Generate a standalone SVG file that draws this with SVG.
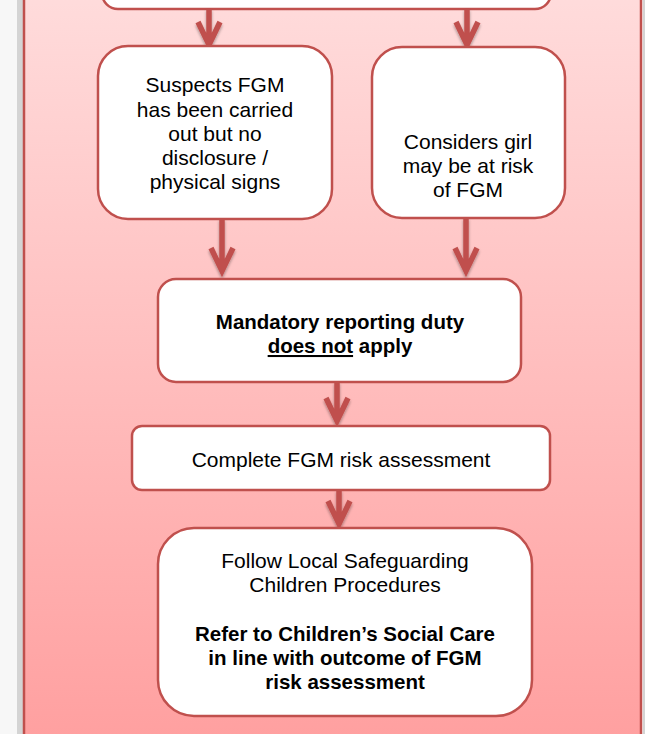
<svg xmlns="http://www.w3.org/2000/svg" width="645" height="734" viewBox="0 0 645 734">
<defs>
<linearGradient id="bg" x1="0" y1="0" x2="0" y2="1">
<stop offset="0" stop-color="#ffdcdc"/>
<stop offset="1" stop-color="#ff9f9f"/>
</linearGradient>
<filter id="sh" x="-50%" y="-20%" width="200%" height="150%">
<feGaussianBlur in="SourceAlpha" stdDeviation="1.5"/>
<feOffset dx="0" dy="2" result="b"/>
<feComponentTransfer><feFuncA type="linear" slope="0.35"/></feComponentTransfer>
<feMerge><feMergeNode/><feMergeNode in="SourceGraphic"/></feMerge>
</filter>
</defs>
<style>
.box{fill:#ffffff;stroke:#c0504d;stroke-width:2.5}
.arr{fill:none;stroke:#c0504d;stroke-width:5.5;stroke-linejoin:miter}
text{font-family:"Liberation Sans",Arial,sans-serif;font-size:21px;fill:#000;text-anchor:middle}
.b{font-weight:bold;font-size:20.5px}
</style>
<rect x="0" y="0" width="645" height="734" fill="#f7f7f7"/>
<rect x="17" y="0" width="6" height="734" fill="#d4d4d4"/>
<rect x="643" y="0" width="2" height="734" fill="#d4d4d4"/>
<rect id="frame" x="24" y="-10" width="617" height="760" fill="url(#bg)" stroke="#c0504d" stroke-width="2.5"/>
<g id="top-box"><rect class="box" x="102" y="-60" width="449" height="69" rx="16"/></g>
<g id="connectors" filter="url(#sh)">
<path class="arr" d="M209 9V45M198 22L209 45L220 22"/>
<path class="arr" d="M467 9V45M456 22L467 45L478 22"/>
<path class="arr" d="M222 219V271M211 248L222 271L233 248"/>
<path class="arr" d="M466 218V271M455 248L466 271L477 248"/>
<path class="arr" d="M337 382V421M326 398L337 421L348 398"/>
<path class="arr" d="M339 490V524M328 501L339 524L350 501"/>
</g>
<g id="suspects">
<rect class="box" x="98" y="46" width="234" height="173" rx="30"/>
<text x="215" y="92">Suspects FGM</text>
<text x="215" y="116.5">has been carried</text>
<text x="215" y="140.5">out but no</text>
<text x="215" y="165">disclosure /</text>
<text x="215" y="189">physical signs</text>
</g>
<g id="considers">
<rect class="box" x="372" y="47" width="193" height="171" rx="30"/>
<text x="468" y="149">Considers girl</text>
<text x="468" y="173">may be at risk</text>
<text x="468" y="197">of FGM</text>
</g>
<g id="mandatory">
<rect class="box" x="158" y="279" width="363" height="103" rx="18"/>
<text class="b" x="340" y="329">Mandatory reporting duty</text>
<text class="b" x="340" y="353"><tspan text-decoration="underline">does not</tspan> apply</text>
</g>
<g id="complete">
<rect class="box" x="132" y="426" width="418" height="64" rx="10"/>
<text x="341" y="467">Complete FGM risk assessment</text>
</g>
<g id="follow">
<rect class="box" x="158" y="528" width="374" height="188" rx="36"/>
<text x="345" y="568">Follow Local Safeguarding</text>
<text x="345" y="592">Children Procedures</text>
<text class="b" x="345" y="641">Refer to Children’s Social Care</text>
<text class="b" x="345" y="665">in line with outcome of FGM</text>
<text class="b" x="345" y="689">risk assessment</text>
</g>
</svg>
